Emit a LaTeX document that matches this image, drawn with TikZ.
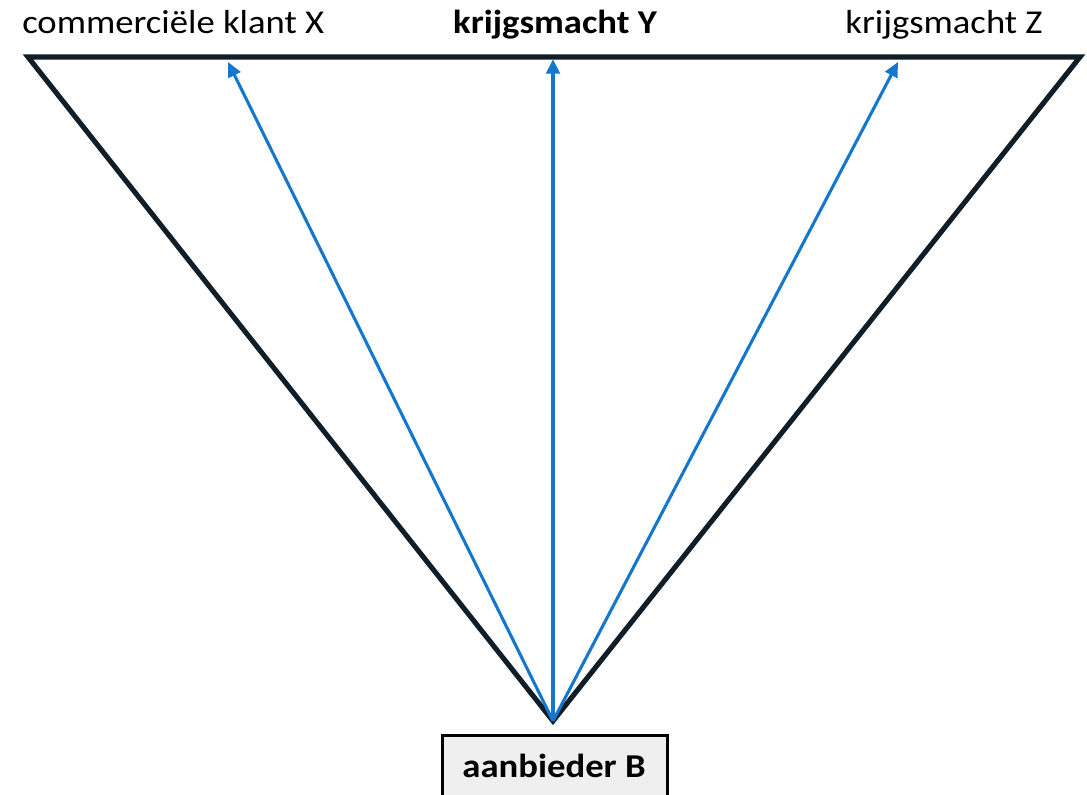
\documentclass[tikz,border=0pt]{standalone}
\usepackage{fontspec}
\setmainfont{Carlito}[FakeStretch=1.1]
\usetikzlibrary{arrows.meta}
\definecolor{edgedark}{HTML}{111E28}
\definecolor{flowblue}{HTML}{1577CC}
\definecolor{boxfill}{HTML}{EFEFEF}
\begin{document}
\begin{tikzpicture}[x=0.75pt,y=-0.75pt,
  frame/.style={draw=edgedark,line width=3.8pt,line join=miter},
  flow/.style={draw=flowblue,line width=2.3pt,-{Triangle[length=11pt,width=10pt]}},
  mainflow/.style={flow,line width=3pt},
  label/.style={font=\fontsize{25}{30}\selectfont,inner sep=0pt,text=black},
  party/.style={draw=black,line width=2.2pt,fill=boxfill,
    minimum width=225*0.75pt,minimum height=80*0.75pt,anchor=north,inner sep=0pt}]
  \useasboundingbox (0,0) rectangle (1087,794);
  \clip (0,0) rectangle (1087,794);
  \fill[white] (0,0) rectangle (1087,794);

  % corners of the triangle and arrow targets
  \coordinate (tl) at (28,57);
  \coordinate (tr) at (1080,57);
  \coordinate (apex) at (553,721);
  \coordinate (tx) at (228,62);
  \coordinate (ty) at (553,59);
  \coordinate (tz) at (898,62);

  % supplier box
  \node[party] (b) at (555,734) {};
  \node[label,font=\fontsize{25}{30}\selectfont\bfseries,anchor=base] (bl) at (554,777) {aanbieder B};

  % customer labels
  \node[label,anchor=base west] (x) at (22,33) {commerciële klant X};
  \node[label,anchor=base,font=\fontsize{25}{30}\selectfont\bfseries] (y) at (555,33) {krijgsmacht Y};
  \node[label,anchor=base] (z) at (944,33) {krijgsmacht Z};

  % triangle
  \draw[frame] (tl) -- (tr) -- (apex) -- cycle;

  % deliveries
  \draw[flow] (apex) -- (tx);
  \draw[mainflow] (apex) -- (ty);
  \draw[flow] (apex) -- (tz);
\end{tikzpicture}
\end{document}
